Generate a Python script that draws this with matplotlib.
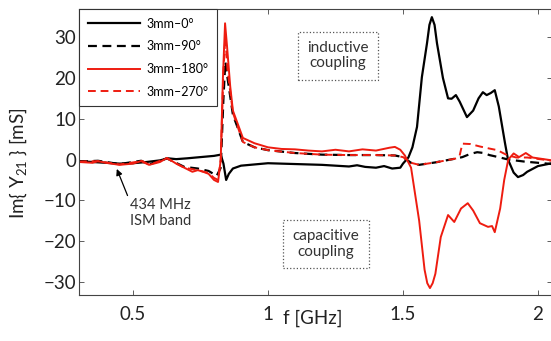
import matplotlib
matplotlib.use('Agg')
import matplotlib.pyplot as plt

plt.rcParams['font.family'] = ['Lato', 'DejaVu Sans']
plt.rcParams['axes.unicode_minus'] = True

# 3mm - 0 deg (black solid)
f_0 = [0.30, 0.35, 0.40, 0.45, 0.50, 0.55, 0.60, 0.63, 0.66, 0.70, 0.75, 0.80, 0.825,
       0.835, 0.845, 0.855, 0.87, 0.90, 0.95, 1.00, 1.05, 1.10, 1.15, 1.20, 1.25, 1.30,
       1.33, 1.36, 1.40, 1.43, 1.46, 1.49, 1.50, 1.52, 1.535, 1.552, 1.57, 1.589, 1.598,
       1.607, 1.617, 1.626, 1.648, 1.667, 1.68, 1.696, 1.71, 1.737, 1.76, 1.78, 1.796,
       1.81, 1.825, 1.84, 1.855, 1.878, 1.889, 1.91, 1.926, 1.945, 1.96, 2.00, 2.052]
y_0 = [-0.4, -0.6, -0.8, -1.0, -0.9, -0.6, -0.2, 0.3, 0.1, 0.3, 0.6, 0.9, 1.2,
       -1.0, -5.0, -3.5, -2.2, -1.5, -1.2, -0.9, -1.0, -1.1, -1.2, -1.3, -1.5, -1.7,
       -1.4, -1.8, -2.0, -1.6, -2.2, -2.0, -1.0, 0.5, 3.0, 8.0, 20.2, 28.5, 33.0,
       34.9, 33.0, 28.5, 20.0, 15.0, 14.9, 15.8, 14.2, 10.4, 12.0, 15.0, 16.5,
       15.8, 16.3, 17.0, 13.0, 4.0, 0.0, -3.2, -4.3, -3.8, -3.0, -1.6, -0.9]

# 3mm - 90 deg (black dashed)
f_90 = [0.30, 0.37, 0.45, 0.53, 0.56, 0.625, 0.69, 0.74, 0.78, 0.81, 0.825, 0.835, 0.842,
        0.85, 0.87, 0.907, 0.95, 1.00, 1.10, 1.20, 1.30, 1.40, 1.47, 1.50, 1.53, 1.56,
        1.62, 1.70, 1.72, 1.75, 1.775, 1.80, 1.82, 1.86, 1.89, 1.95, 2.052]
y_90 = [-0.5, -0.3, -1.1, -0.3, -1.2, 0.3, -1.8, -2.2, -2.8, -4.0, -2.0, 15.0, 24.0,
        20.0, 11.0, 4.3, 3.0, 2.3, 1.6, 1.2, 1.1, 1.1, 1.0, 0.6, -0.8, -1.3,
        -0.7, 0.3, 0.6, 1.4, 1.8, 1.6, 1.1, 0.5, 0.0, -0.5, -1.1]

# 3mm - 180 deg (red solid)
f_180 = [0.30, 0.35, 0.37, 0.40, 0.45, 0.50, 0.533, 0.56, 0.60, 0.626, 0.66, 0.69, 0.72,
         0.74, 0.76, 0.78, 0.80, 0.815, 0.825, 0.833, 0.841, 0.848, 0.86, 0.87, 0.907,
         0.95, 1.00, 1.05, 1.10, 1.15, 1.20, 1.25, 1.30, 1.35, 1.40, 1.45, 1.47, 1.49,
         1.507, 1.53, 1.56, 1.58, 1.59, 1.60, 1.61, 1.62, 1.64, 1.667, 1.69, 1.715, 1.74,
         1.76, 1.785, 1.815, 1.83, 1.84, 1.86, 1.875, 1.89, 1.91, 1.93, 1.955, 1.98, 2.052]
y_180 = [-0.6, -0.8, -0.4, -0.8, -1.3, -1.0, -0.3, -1.3, -0.6, 0.4, -1.0, -2.0, -3.0,
         -2.6, -3.0, -3.5, -5.0, -5.5, 0.0, 20.0, 33.4, 28.0, 18.0, 12.0, 5.3,
         4.0, 3.0, 2.6, 2.5, 2.2, 2.0, 2.4, 2.0, 2.5, 2.2, 2.9, 3.1, 2.4,
         1.0, -2.0, -15.0, -27.0, -30.3, -31.5, -30.3, -28.0, -19.0, -13.6, -15.3, -12.0, -10.7,
         -12.5, -15.6, -16.5, -16.3, -17.8, -12.0, -5.0, 0.0, 1.5, 0.6, 1.6, 0.5, -0.2]

# 3mm - 270 deg (red dashed)
f_270 = [0.30, 0.37, 0.45, 0.53, 0.56, 0.625, 0.69, 0.74, 0.78, 0.80, 0.815, 0.825, 0.835,
         0.842, 0.85, 0.87, 0.907, 0.95, 1.00, 1.10, 1.20, 1.30, 1.40, 1.47, 1.50, 1.53,
         1.56, 1.62, 1.70, 1.71, 1.72, 1.75, 1.785, 1.82, 1.85, 1.885, 1.92, 1.96, 2.052]
y_270 = [-0.5, -0.4, -1.2, -0.4, -1.3, 0.3, -2.0, -2.6, -3.3, -4.5, -5.0, 0.0, 22.0,
         30.0, 22.0, 11.5, 4.3, 3.0, 2.3, 1.6, 1.2, 1.1, 1.1, 1.0, 0.6, -0.8,
         -1.3, -0.7, 0.3, 1.0, 3.9, 3.8, 3.2, 2.7, 2.3, 1.1, 0.5, 0.5, -0.3]

labels = ['3mm\u20130\u00b0', '3mm\u201390\u00b0', '3mm\u2013180\u00b0', '3mm\u2013270\u00b0']
xticks = [0.5, 1, 1.5, 2]
yticks = [-30, -20, -10, 0, 10, 20, 30]

fig = plt.figure(figsize=(5.51, 3.41), dpi=100)
ax = fig.add_axes([0.1434, 0.1349, 0.8584, 0.8387])

ax.plot(f_0, y_0, color='black', lw=1.6, label=labels[0])
ax.plot(f_90, y_90, color='black', lw=1.6, ls=(0, (4, 2.5)), label=labels[1])
ax.plot(f_180, y_180, color='#ee1c10', lw=1.4, label=labels[2])
ax.plot(f_270, y_270, color='#ee1c10', lw=1.4, ls=(0, (4, 2.5)), label=labels[3])

ax.set_xlim(0.3, 2.052)
ax.set_ylim(-33.2, 36.9)
ax.set_xticks(xticks)
ax.set_xticklabels(['0.5', '1', '1.5', '2'])
ax.set_yticks(yticks)
ax.tick_params(direction='in', length=3.5, width=0.6, top=True, right=True,
               labelsize=13.5, color='#444444', labelcolor='#222222')
ax.tick_params(axis='x', pad=8)
ax.tick_params(axis='y', pad=2)
for s in ax.spines.values():
    s.set_linewidth(0.8)
    s.set_color('#444444')

ax.set_xlabel('f [GHz]', fontsize=13.5, color='#222222')
ax.xaxis.set_label_coords(0.495, -0.05)
ax.set_ylabel('Im{ Y$_{\\mathregular{21}}$ } [mS]', fontsize=13.5, color='#222222')
ax.yaxis.set_label_coords(-0.105, 0.46)

leg = ax.legend(loc='upper left', fontsize=9, handlelength=4.2, labelspacing=0.85,
                borderaxespad=0, fancybox=False, framealpha=1, borderpad=0.7,
                handletextpad=0.5)
leg.get_frame().set_edgecolor('#333333')
leg.get_frame().set_linewidth(0.8)

box = dict(boxstyle='square,pad=0.6', fc='white', ec='#555555', ls=':', lw=0.9)
ax.text(1.259, 25.4, 'inductive\ncoupling', ha='center', va='center', fontsize=11,
        color='#333333', bbox=box, linespacing=1.1)
ax.text(1.215, -20.7, 'capacitive\ncoupling', ha='center', va='center', fontsize=11,
        color='#333333', bbox=box, linespacing=1.1)

ax.annotate('434 MHz\nISM band', xy=(0.44, -2.3), xytext=(0.49, -13.1),
            ha='left', va='center', fontsize=10.5, color='#333333', linespacing=1.2,
            arrowprops=dict(arrowstyle='-|>', color='black', lw=0.9,
                            shrinkA=0, shrinkB=0, mutation_scale=9,
                            relpos=(0.0, 0.85)))

fig.savefig('out.png', dpi=100)
